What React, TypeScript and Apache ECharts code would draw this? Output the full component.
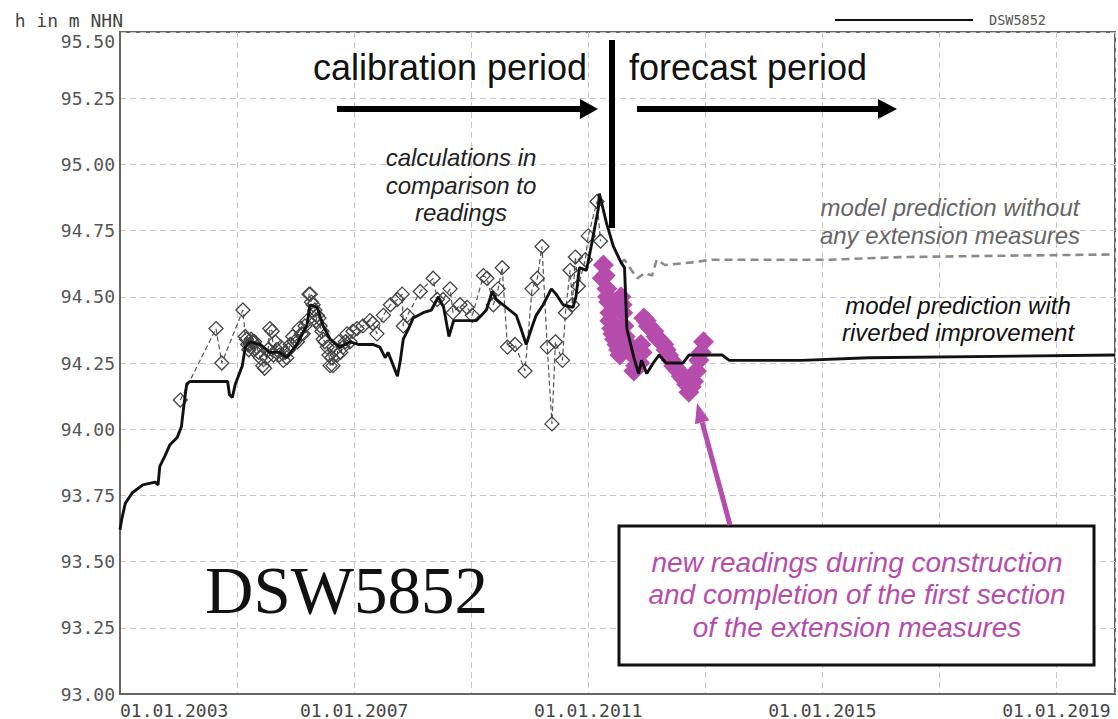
import React, { useEffect, useRef } from "react";
import * as echarts from "echarts";

// ---- data (decimal year, water level in m NHN) ----
const simulatedYears = [
  2003.0, 2003.03, 2003.09, 2003.21, 2003.39, 2003.6, 2003.65, 2003.68, 2003.77, 2003.85,
  2003.98, 2004.05, 2004.07, 2004.12, 2004.14, 2004.19, 2004.65, 2004.84, 2004.87, 2004.92,
  2004.97, 2005.09, 2005.14, 2005.22, 2005.39, 2005.56, 2005.73, 2005.85, 2006.02, 2006.19,
  2006.25, 2006.37, 2006.47, 2006.59, 2006.76, 2006.93, 2007.07, 2007.32, 2007.44, 2007.53,
  2007.58, 2007.67, 2007.74, 2007.79, 2007.84, 2007.93, 2008.01, 2008.18, 2008.32, 2008.44,
  2008.53, 2008.62, 2008.7, 2008.87, 2009.09, 2009.26, 2009.36, 2009.43, 2009.6, 2009.77,
  2009.85, 2009.94, 2010.03, 2010.11, 2010.23, 2010.37, 2010.45, 2010.57, 2010.74, 2010.79,
  2010.85, 2010.97, 2011.05, 2011.17, 2011.19, 2011.31, 2011.43, 2011.56, 2011.62, 2011.66,
  2011.78, 2011.86, 2011.91, 2012.0, 2012.11, 2012.21, 2012.33, 2012.62, 2012.72, 2013.29,
  2013.41, 2014.65, 2015.79, 2020.0,
];
const simulatedValues = [
  93.62, 93.66, 93.72, 93.76, 93.79, 93.8, 93.79, 93.86, 93.9, 93.94,
  93.97, 94.01, 94.05, 94.14, 94.17, 94.18, 94.18, 94.18, 94.13, 94.12,
  94.17, 94.24, 94.31, 94.33, 94.32, 94.29, 94.29, 94.27, 94.32, 94.39,
  94.47, 94.46, 94.39, 94.34, 94.31, 94.33, 94.32, 94.32, 94.31, 94.27,
  94.29, 94.24, 94.2, 94.26, 94.34, 94.38, 94.42, 94.44, 94.45, 94.5,
  94.46, 94.35, 94.41, 94.41, 94.41, 94.45, 94.52, 94.49, 94.46, 94.43,
  94.38, 94.32, 94.38, 94.43, 94.47, 94.53, 94.51, 94.47, 94.46, 94.5,
  94.61, 94.6, 94.69, 94.83, 94.89, 94.78, 94.69, 94.63, 94.61, 94.38,
  94.27, 94.21, 94.26, 94.21, 94.25, 94.28, 94.25, 94.25, 94.28, 94.28,
  94.26, 94.26, 94.27, 94.28,
];

const readingYears = [
  2004.03, 2004.64, 2004.74, 2005.1, 2005.14, 2005.16, 2005.18, 2005.2, 2005.22, 2005.24,
  2005.26, 2005.28, 2005.3, 2005.34, 2005.37, 2005.4, 2005.44, 2005.47, 2005.5, 2005.53,
  2005.56, 2005.6, 2005.62, 2005.65, 2005.68, 2005.72, 2005.75, 2005.79, 2005.82, 2005.85,
  2005.88, 2005.91, 2005.95, 2005.98, 2006.03, 2006.06, 2006.1, 2006.13, 2006.16, 2006.2,
  2006.23, 2006.25, 2006.27, 2006.3, 2006.33, 2006.35, 2006.37, 2006.4, 2006.42, 2006.45,
  2006.47, 2006.5, 2006.54, 2006.57, 2006.59, 2006.62, 2006.64, 2006.67, 2006.71, 2006.74,
  2006.77, 2006.81, 2006.85, 2006.88, 2006.93, 2006.98, 2007.05, 2007.15, 2007.27, 2007.32,
  2007.39, 2007.5, 2007.62, 2007.74, 2007.82, 2007.84, 2007.91, 2008.13, 2008.35, 2008.42,
  2008.52, 2008.64, 2008.69, 2008.81, 2008.93, 2009.02, 2009.21, 2009.27, 2009.38, 2009.46,
  2009.53, 2009.62, 2009.75, 2009.92, 2010.04, 2010.13, 2010.21, 2010.3, 2010.38, 2010.44,
  2010.56, 2010.61, 2010.69, 2010.73, 2010.78, 2010.83, 2010.95, 2011.0, 2011.15, 2011.21,
];
const readingValues = [
  94.11, 94.38, 94.25, 94.45, 94.35, 94.34, 94.32, 94.3, 94.32, 94.34,
  94.33, 94.3, 94.33, 94.31, 94.29, 94.27, 94.24, 94.23, 94.27, 94.3,
  94.38, 94.37, 94.28, 94.33, 94.3, 94.28, 94.31, 94.26, 94.29, 94.27,
  94.3, 94.32, 94.35, 94.33, 94.33, 94.38, 94.36, 94.36, 94.39, 94.41,
  94.51, 94.51, 94.48, 94.47, 94.45, 94.41, 94.43, 94.42, 94.39, 94.37,
  94.34, 94.33, 94.31, 94.28, 94.24, 94.27, 94.24, 94.3, 94.28, 94.33,
  94.29, 94.31, 94.33, 94.36, 94.33, 94.37, 94.38, 94.39, 94.41, 94.4,
  94.36, 94.43, 94.47, 94.49, 94.51, 94.39, 94.43, 94.52, 94.57, 94.49,
  94.49, 94.53, 94.44, 94.47, 94.46, 94.43, 94.58, 94.57, 94.47, 94.53,
  94.61, 94.31, 94.32, 94.22, 94.53, 94.57, 94.69, 94.31, 94.02, 94.33,
  94.26, 94.44, 94.6, 94.47, 94.65, 94.54, 94.64, 94.73, 94.86, 94.71,
];

const noMeasuresYears = [
  2011.56, 2011.62, 2011.74, 2011.84, 2011.97, 2012.09, 2012.17, 2012.31, 2012.77, 2013.1,
  2014.0, 2015.12, 2016.34, 2018.05, 2020.0,
];
const noMeasuresValues = [
  94.63, 94.64, 94.6, 94.57, 94.59, 94.58, 94.64, 94.62, 94.63, 94.64,
  94.64, 94.64, 94.65, 94.655, 94.66,
];

const newReadingYears = [
  2011.24, 2011.26, 2011.29, 2011.32, 2011.33, 2011.35, 2011.37, 2011.37, 2011.4, 2011.42,
  2011.45, 2011.49, 2011.52, 2011.54, 2011.56, 2011.58, 2011.59, 2011.61, 2011.63, 2011.65,
  2011.68, 2011.72, 2011.76, 2011.78, 2011.81, 2011.88, 2011.9, 2011.92, 2011.95, 2011.99,
  2012.03, 2012.07, 2012.12, 2012.16, 2012.2, 2012.25, 2012.29, 2012.33, 2012.37, 2012.42,
  2012.46, 2012.5, 2012.54, 2012.59, 2012.63, 2012.68, 2012.72, 2012.76, 2012.8, 2012.85,
  2012.89, 2012.93, 2012.97,
];
const newReadingValues = [
  94.57, 94.62, 94.58, 94.53, 94.5, 94.48, 94.44, 94.41, 94.38, 94.36,
  94.34, 94.32, 94.3, 94.28, 94.5, 94.47, 94.44, 94.39, 94.35, 94.33,
  94.31, 94.29, 94.28, 94.22, 94.24, 94.25, 94.32, 94.29, 94.42, 94.41,
  94.39, 94.38, 94.37, 94.35, 94.34, 94.33, 94.32, 94.3, 94.28, 94.26,
  94.24, 94.23, 94.22, 94.2, 94.19, 94.17, 94.14, 94.16, 94.18, 94.22,
  94.26, 94.29, 94.33,
];

const xLabelYears = [2003, 2007, 2011, 2015, 2019];

const zip = (xs: number[], ys: number[]) => xs.map((x, i) => [x, ys[i]]);

const MAGENTA = "#B64DAC";
const MONO = "'DejaVu Sans Mono', 'Liberation Mono', monospace";
const SANS = "'Liberation Sans', Arial, sans-serif";

export default function App() {
  const ref = useRef<HTMLDivElement>(null);

  useEffect(() => {
    if (!ref.current) return;
    const chart = echarts.init(ref.current, undefined, { renderer: "svg" });

    const textEl = (
      text: string,
      x: number,
      y: number,
      size: number,
      fill: string,
      italic = false,
      family = SANS,
      align = "center"
    ) => ({
      type: "text",
      x,
      y,
      z: 100,
      style: {
        text,
        fill,
        font: `${italic ? "italic " : ""}${size}px ${family}`,
        align,
        verticalAlign: "middle",
      },
    });

    // magenta arrow geometry (annotation)
    const tip = [697, 403];
    const tail = [730, 525];
    const dx = tip[0] - tail[0];
    const dy = tip[1] - tail[1];
    const len = Math.hypot(dx, dy);
    const ux = dx / len;
    const uy = dy / len;
    const headLen = 20;
    const headHalf = 7.5;
    const bx = tip[0] - ux * headLen;
    const by = tip[1] - uy * headLen;

    chart.setOption({
      animation: false,
      backgroundColor: "#ffffff",
      grid: {
        left: 120,
        right: 3,
        top: 32,
        bottom: 21,
        show: true,
        borderColor: "#666",
        borderWidth: 2,
        backgroundColor: "#fff",
      },
      legend: {
        data: [{ name: "DSW5852", icon: "rect" }],
        left: 830,
        top: 8,
        itemWidth: 138,
        itemHeight: 2,
        selectedMode: false,
        textStyle: {
          fontFamily: MONO,
          fontSize: 13.5,
          color: "#555",
          padding: [0, 0, 0, 11],
        },
      },
      xAxis: {
        type: "value",
        min: 2003,
        max: 2020,
        interval: 2,
        axisLine: { show: true, lineStyle: { color: "#666", width: 2 } },
        axisTick: { show: false },
        splitLine: {
          show: true,
          lineStyle: { color: "#cdc3c3", width: 1, type: [6, 4] },
        },
        axisLabel: {
          margin: 7,
          fontFamily: MONO,
          fontSize: 18,
          color: "#444",
          alignMinLabel: "left",
          formatter: (v: number) =>
            xLabelYears.indexOf(Math.round(v)) >= 0 && Math.abs(v - Math.round(v)) < 1e-6
              ? `01.01.${Math.round(v)}`
              : "",
        },
      },
      yAxis: {
        type: "value",
        min: 93,
        max: 95.5,
        interval: 0.25,
        name: "h in m NHN",
        nameLocation: "end",
        nameGap: 12,
        nameTextStyle: {
          fontFamily: MONO,
          fontSize: 18,
          color: "#444",
          align: "right",
          verticalAlign: "middle",
          padding: [0, -3, 0, 0],
        },
        axisLine: { show: true, lineStyle: { color: "#666", width: 2 } },
        axisTick: { show: false },
        splitLine: {
          show: true,
          lineStyle: { color: "#cdc3c3", width: 1, type: [6, 4] },
        },
        axisLabel: {
          margin: 5,
          fontFamily: MONO,
          fontSize: 18,
          color: "#555",
          verticalAlignMaxLabel: "top",
          formatter: (v: number) => v.toFixed(2),
        },
      },
      series: [
        {
          name: "readings",
          type: "line",
          data: zip(readingYears, readingValues),
          symbol: "diamond",
          symbolSize: 14,
          showAllSymbol: true,
          z: 2,
          lineStyle: { color: "#555", width: 1.2, type: [5, 3] },
          itemStyle: { color: "rgba(0,0,0,0)", borderColor: "#444", borderWidth: 1.3 },
        },
        {
          name: "new readings",
          type: "scatter",
          data: zip(newReadingYears, newReadingValues),
          symbol: "diamond",
          symbolSize: 21,
          z: 3,
          itemStyle: { color: MAGENTA, opacity: 1 },
        },
        {
          name: "without measures",
          type: "line",
          data: zip(noMeasuresYears, noMeasuresValues),
          showSymbol: false,
          z: 3,
          lineStyle: { color: "#8a8a8a", width: 2.6, type: [8, 5] },
        },
        {
          name: "DSW5852",
          type: "line",
          data: zip(simulatedYears, simulatedValues),
          showSymbol: false,
          z: 4,
          color: "#111",
          lineStyle: { color: "#111", width: 2.9 },
        },
      ],
      graphic: [
        textEl("calibration period", 450, 67, 36, "#111"),
        textEl("forecast period", 748, 67, 36, "#111"),
        { type: "line", z: 100, shape: { x1: 612, y1: 40, x2: 612, y2: 228 }, style: { stroke: "#000", lineWidth: 6 } },
        { type: "line", z: 100, shape: { x1: 337, y1: 109, x2: 582, y2: 109 }, style: { stroke: "#000", lineWidth: 6 } },
        { type: "polygon", z: 100, shape: { points: [[580, 99], [598, 109], [580, 119]] }, style: { fill: "#000" } },
        { type: "line", z: 100, shape: { x1: 637, y1: 109, x2: 880, y2: 109 }, style: { stroke: "#000", lineWidth: 6 } },
        { type: "polygon", z: 100, shape: { points: [[878, 99], [897, 109], [878, 119]] }, style: { fill: "#000" } },
        textEl("calculations in", 461, 157, 24, "#222", true),
        textEl("comparison to", 461, 185, 24, "#222", true),
        textEl("readings", 461, 212, 24, "#222", true),
        textEl("model prediction without", 950, 207, 24, "#666", true),
        textEl("any extension measures", 950, 235, 24, "#666", true),
        textEl("model prediction with", 958, 305, 24, "#111", true),
        textEl("riverbed improvement", 958, 332, 24, "#111", true),
        textEl("DSW5852", 205, 590, 67, "#111", false, "'Liberation Serif', 'DejaVu Serif', serif", "left"),
        {
          type: "rect",
          z: 100,
          shape: { x: 619, y: 526, width: 475, height: 139 },
          style: { fill: "#fff", stroke: "#111", lineWidth: 3 },
        },
        textEl("new readings during construction", 857, 562, 28, MAGENTA, true),
        textEl("and completion of the first section", 857, 594, 28, MAGENTA, true),
        textEl("of the extension measures", 857, 627, 28, MAGENTA, true),
        {
          type: "line",
          z: 100,
          shape: { x1: tail[0], y1: tail[1], x2: bx, y2: by },
          style: { stroke: MAGENTA, lineWidth: 5 },
        },
        {
          type: "polygon",
          z: 100,
          shape: {
            points: [
              [tip[0], tip[1]],
              [bx - uy * headHalf, by + ux * headHalf],
              [bx + uy * headHalf, by - ux * headHalf],
            ],
          },
          style: { fill: MAGENTA },
        },
      ],
    });

    return () => chart.dispose();
  }, []);

  return (
    <div
      ref={ref}
      style={{ position: "fixed", left: 0, top: 0, width: 1118, height: 719, background: "#fff" }}
    />
  );
}
